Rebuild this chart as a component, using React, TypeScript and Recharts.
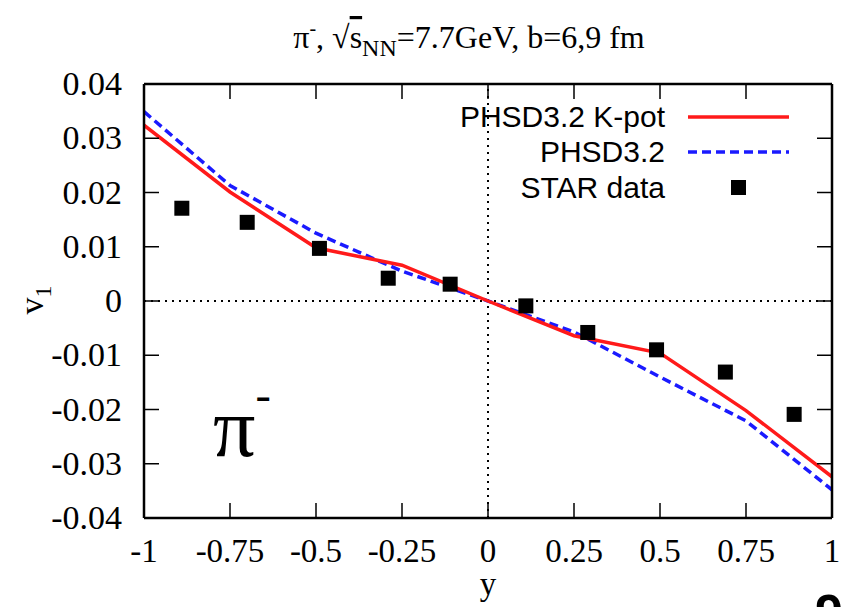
import {
  ComposedChart,
  Line,
  Scatter,
  XAxis,
  YAxis,
  ReferenceLine,
} from "recharts";

// rapidity grid for model curves
const modelY = [-1, -0.75, -0.5, -0.25, 0, 0.25, 0.5, 0.75, 1];
const kpotV1 = [0.0324, 0.0201, 0.0098, 0.0066, 0, -0.0064, -0.0096, -0.0202, -0.0324];
const phsdV1 = [0.0349, 0.0213, 0.0125, 0.0055, 0, -0.0057, -0.014, -0.0221, -0.0348];

// STAR data
const starY = [-0.89, -0.7, -0.49, -0.29, -0.11, 0.11, 0.29, 0.49, 0.69, 0.89];
const starV1 = [0.0171, 0.0145, 0.0097, 0.0042, 0.0031, -0.0009, -0.0058, -0.009, -0.0131, -0.0209];

const xTicks = [-1, -0.75, -0.5, -0.25, 0, 0.25, 0.5, 0.75, 1];
const yTicks = [-0.04, -0.03, -0.02, -0.01, 0, 0.01, 0.02, 0.03, 0.04];

const kpotData = modelY.map((y, i) => ({ y, v1: kpotV1[i] }));
const phsdData = modelY.map((y, i) => ({ y, v1: phsdV1[i] }));
const starData = starY.map((y, i) => ({ y, v1: starV1[i] }));

const W = 848;
const H = 607;
const serif = "'Liberation Serif', 'Times New Roman', serif";
const sans = "'Liberation Sans', Arial, sans-serif";
const TICK = 15;

const fmt = (v: number) => (v === 0 ? "0" : String(v));

function BottomTick(props: any) {
  const { x, y, payload } = props;
  return (
    <g>
      <line x1={x} y1={y} x2={x} y2={y - TICK} stroke="#000" strokeWidth={1.5} />
      <text x={x} y={y + 44} textAnchor="middle" fontFamily={serif} fontSize={33} fill="#000">
        {fmt(payload.value)}
      </text>
    </g>
  );
}

function LeftTick(props: any) {
  const { x, y, payload } = props;
  return (
    <g>
      <line x1={x} y1={y} x2={x + TICK} y2={y} stroke="#000" strokeWidth={1.5} />
      <text x={x - 22} y={y + 11} textAnchor="end" fontFamily={serif} fontSize={34} fill="#000">
        {fmt(payload.value)}
      </text>
    </g>
  );
}

function TopTick(props: any) {
  const { x, y } = props;
  return <line x1={x} y1={y} x2={x} y2={y + TICK} stroke="#000" strokeWidth={1.5} />;
}

function RightTick(props: any) {
  const { x, y } = props;
  return <line x1={x} y1={y} x2={x - TICK} y2={y} stroke="#000" strokeWidth={1.5} />;
}

function Square(props: any) {
  const { cx, cy } = props;
  return <rect x={cx - 7.5} y={cy - 7.5} width={15} height={15} fill="#000" />;
}

const frame = { stroke: "#000", strokeWidth: 2.5 };

export default function App() {
  return (
    <div style={{ position: "absolute", left: 0, top: 0, width: W, height: H, background: "#fff" }}>
      <ComposedChart
        width={W}
        height={H}
        margin={{ top: 83, right: 15, bottom: 59, left: 84 }}
      >
        <XAxis
          xAxisId="b"
          type="number"
          dataKey="y"
          domain={[-1, 1]}
          ticks={xTicks}
          interval={0}
          height={30}
          tickSize={0}
          tickMargin={0}
          tickLine={false}
          axisLine={frame}
          tick={<BottomTick />}
          allowDataOverflow
        />
        <XAxis
          xAxisId="t"
          orientation="top"
          type="number"
          dataKey="y"
          domain={[-1, 1]}
          ticks={xTicks}
          interval={0}
          height={1}
          tickSize={0}
          tickMargin={0}
          tickLine={false}
          axisLine={frame}
          tick={<TopTick />}
          allowDataOverflow
        />
        <YAxis
          yAxisId="l"
          type="number"
          domain={[-0.04, 0.04]}
          ticks={yTicks}
          interval={0}
          width={60}
          tickSize={0}
          tickMargin={0}
          tickLine={false}
          axisLine={frame}
          tick={<LeftTick />}
          allowDataOverflow
        />
        <YAxis
          yAxisId="r"
          orientation="right"
          type="number"
          domain={[-0.04, 0.04]}
          ticks={yTicks}
          interval={0}
          width={1}
          tickSize={0}
          tickMargin={0}
          tickLine={false}
          axisLine={frame}
          tick={<RightTick />}
          allowDataOverflow
        />
        <ReferenceLine xAxisId="b" yAxisId="l" y={0} stroke="#000" strokeWidth={2} strokeDasharray="2 5" />
        <ReferenceLine xAxisId="b" yAxisId="l" x={0} stroke="#000" strokeWidth={2} strokeDasharray="2 5" />
        <Line
          xAxisId="b"
          yAxisId="l"
          data={phsdData}
          dataKey="v1"
          name="PHSD3.2"
          stroke="#1a1aff"
          strokeWidth={3.5}
          strokeDasharray="9 5"
          dot={false}
          isAnimationActive={false}
        />
        <Line
          xAxisId="b"
          yAxisId="l"
          data={kpotData}
          dataKey="v1"
          name="PHSD3.2 K-pot"
          stroke="#ff1a1a"
          strokeWidth={3.5}
          dot={false}
          isAnimationActive={false}
        />
        <Scatter
          xAxisId="b"
          yAxisId="l"
          data={starData}
          dataKey="v1"
          name="STAR data"
          fill="#000"
          shape={<Square />}
          isAnimationActive={false}
        />
      </ComposedChart>

      <svg
        width={W}
        height={H}
        style={{ position: "absolute", left: 0, top: 0, pointerEvents: "none" }}
      >
        {/* title */}
        <text x={469} y={48} textAnchor="middle" fontFamily={serif} fontSize={32} fill="#000">
          π<tspan dy={-13} fontSize={20}>-</tspan>
          <tspan dy={13}>, √</tspan>
          <tspan textDecoration="overline">s</tspan>
          <tspan dy={8} fontSize={24}>NN</tspan>
          <tspan dy={-8}>=7.7GeV, b=6,9 fm</tspan>
        </text>

        {/* axis labels */}
        <text
          transform="translate(43,300) rotate(-90)"
          textAnchor="middle"
          fontFamily={serif}
          fontSize={34}
          fill="#000"
        >
          v<tspan dy={8} fontSize={24}>1</tspan>
        </text>
        <text x={488} y={595} textAnchor="middle" fontFamily={serif} fontSize={33} fill="#000">
          y
        </text>

        {/* particle label */}
        <text x={213} y={456} fontFamily={serif} fontSize={84} fill="#000">
          π<tspan dy={-46} fontSize={46}>-</tspan>
        </text>

        {/* legend */}
        <g fontFamily={sans} fontSize={30} fill="#000" textAnchor="end">
          <text x={665} y={127}>PHSD3.2 K-pot</text>
          <text x={665} y={162}>PHSD3.2</text>
          <text x={665} y={198}>STAR data</text>
        </g>
        <line x1={688} y1={117} x2={789} y2={117} stroke="#ff1a1a" strokeWidth={3.5} />
        <line x1={688} y1={152} x2={789} y2={152} stroke="#1a1aff" strokeWidth={3.5} strokeDasharray="9 5" />
        <rect x={731} y={180} width={15} height={15} fill="#000" />

        {/* page number, cut off at the bottom edge as in the reference */}
        <text x={815} y={630} fontFamily={sans} fontWeight="bold" fontSize={50} fill="#000">
          9
        </text>
      </svg>
    </div>
  );
}
